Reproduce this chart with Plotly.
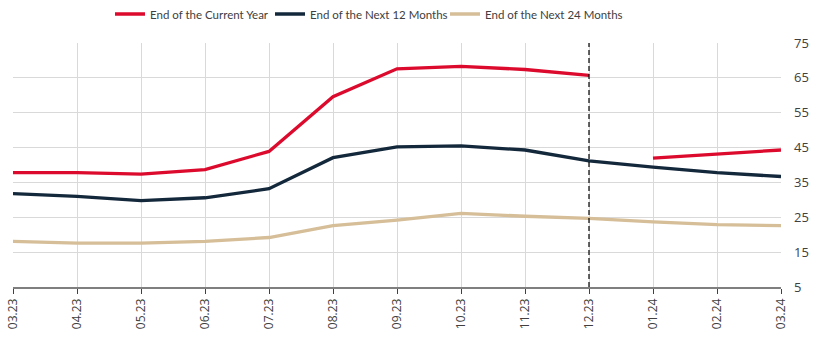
import plotly.graph_objects as go

months = ["03.23", "04.23", "05.23", "06.23", "07.23", "08.23", "09.23",
          "10.23", "11.23", "12.23", "01.24", "02.24", "03.24"]
current_year = [37.8, 37.8, 37.4, 38.7, 43.9, 59.6, 67.6, 68.3, 67.4, 65.7, None, None, None]
current_year_next = [None, None, None, None, None, None, None, None, None, None, 42.0, 43.1, 44.3]
next_12m = [31.8, 31.0, 29.8, 30.6, 33.2, 42.1, 45.2, 45.5, 44.3, 41.2, 39.4, 37.8, 36.7]
next_24m = [18.1, 17.6, 17.6, 18.1, 19.2, 22.6, 24.2, 26.1, 25.3, 24.7, 23.7, 22.9, 22.6]
y_ticks = [5, 15, 25, 35, 45, 55, 65, 75]
divider_month = "12.23"

RED = "#DC0A2D"
NAVY = "#14283C"
TAN = "#D5BE98"

x = list(range(len(months)))
div_x = months.index(divider_month)

W, H = 828, 346
ML, MR, MT, MB = 13, 47, 43, 59
PW = W - ML - MR

fig = go.Figure()
fig.add_trace(go.Scatter(x=x, y=current_year, mode="lines", name="End of the Current Year",
                         line=dict(color=RED, width=3.3), legend="legend"))
fig.add_trace(go.Scatter(x=x, y=next_12m, mode="lines", name="End of the Next 12 Months",
                         line=dict(color=NAVY, width=3.3), legend="legend2"))
fig.add_trace(go.Scatter(x=x, y=next_24m, mode="lines", name="End of the Next 24 Months",
                         line=dict(color=TAN, width=3.3), legend="legend3"))
fig.add_trace(go.Scatter(x=x, y=current_year_next, mode="lines", name="End of the Current Year",
                         line=dict(color=RED, width=3.3), showlegend=False))
fig.add_shape(type="line", xref="x", yref="paper", x0=div_x, x1=div_x, y0=0, y1=1,
              line=dict(color="#000000", width=1.2, dash="5px,3px"))


def leg(px_left):
    return dict(orientation="h", x=(px_left - ML - 8) / PW, xanchor="left", xref="paper",
                y=1 - 14 / H, yanchor="middle", yref="container",
                font=dict(family="Lato", size=11.5, color="#404040"), itemwidth=30,
                bgcolor="rgba(0,0,0,0)")


fig.update_layout(
    width=W, height=H,
    margin=dict(l=ML, r=MR, t=MT, b=MB, autoexpand=False),
    paper_bgcolor="white", plot_bgcolor="white",
    font=dict(family="Open Sans", color="#404040", size=12),
    showlegend=True,
    legend=leg(118), legend2=leg(278), legend3=leg(453),
    xaxis=dict(range=[0, 12], tickmode="array", tickvals=x, ticktext=months,
               tickangle=-90, showgrid=True, gridcolor="#D9D9D9", gridwidth=1,
               showline=True, linecolor="#7F7F7F", linewidth=1.5,
               ticks="outside", ticklen=5, tickcolor="#404040",
               tickfont=dict(size=12), zeroline=False, automargin=False),
    yaxis=dict(range=[5, 75], side="right", tickmode="array", tickvals=y_ticks,
               showgrid=True, gridcolor="#D9D9D9", gridwidth=1, zeroline=False,
               showline=False, ticks="", tickfont=dict(size=13), ticklabelstandoff=12,
               automargin=False),
)
fig.write_html("out.html")
